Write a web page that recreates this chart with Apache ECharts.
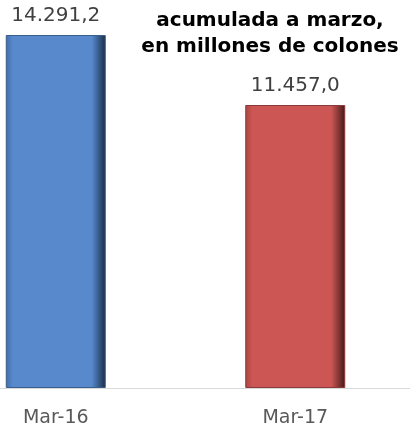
<!DOCTYPE html>
<html>
<head>
<meta charset="utf-8">
<script src="https://cdn.jsdelivr.net/npm/echarts@6/dist/echarts.min.js"></script>
<style>html,body{margin:0;padding:0;background:#fff}#c{width:410px;height:429px}</style>
</head>
<body>
<div id="c"></div>
<script>
const categories = ['Mar-16', 'Mar-17'];
const values = [14291.2, 11457.0];
const titleLines = ['acumulada a marzo,', 'en millones de colones'];

function fmt(v) {
  const parts = v.toFixed(1).split('.');
  const int = parts[0].replace(/\B(?=(\d{3})+(?!\d))/g, '.');
  return int + ',' + parts[1];
}
function grad(edgeL, main, edgeR, dark) {
  return new echarts.graphic.LinearGradient(0, 0, 1, 0, [
    { offset: 0, color: edgeL },
    { offset: 0.07, color: main },
    { offset: 0.86, color: main },
    { offset: 0.94, color: edgeR },
    { offset: 1, color: dark }
  ]);
}
const styles = [
  grad('#3f6ea8', '#5789cc', '#33557f', '#1b2c44'),
  grad('#a84442', '#cc5653', '#7f3432', '#3f1918')
];
const borders = ['#3a5f8c', '#8a3a38'];

const chart = echarts.init(document.getElementById('c'));
chart.setOption({
  animation: false,
  grid: { left: -64, right: -5, top: 17.5, bottom: 41, outerBoundsMode: 'none', containLabel: false },
  xAxis: {
    type: 'category',
    data: categories,
    axisLine: { lineStyle: { color: '#d9d9d9', width: 1 } },
    axisTick: { show: false },
    axisLabel: { color: '#595959', fontSize: 19, fontFamily: 'DejaVu Sans', margin: 21 }
  },
  yAxis: { type: 'value', min: 0, max: 15000, show: false, splitLine: { show: false } },
  series: [{
    type: 'bar',
    barWidth: 100,
    data: values.map((v, i) => ({
      value: v,
      itemStyle: { color: styles[i], borderColor: borders[i], borderWidth: 1 }
    })),
    label: {
      show: true, position: 'top', distance: 9,
      color: '#404040', fontSize: 20, fontFamily: 'DejaVu Sans',
      formatter: p => fmt(p.value)
    }
  }],
  graphic: [{
    type: 'text', x: 270, y: 8,
    style: {
      text: titleLines.join('\n'), textAlign: 'center',
      font: 'bold 20px "DejaVu Sans"', lineHeight: 26, fill: '#000'
    }
  }]
});
</script>
</body>
</html>
